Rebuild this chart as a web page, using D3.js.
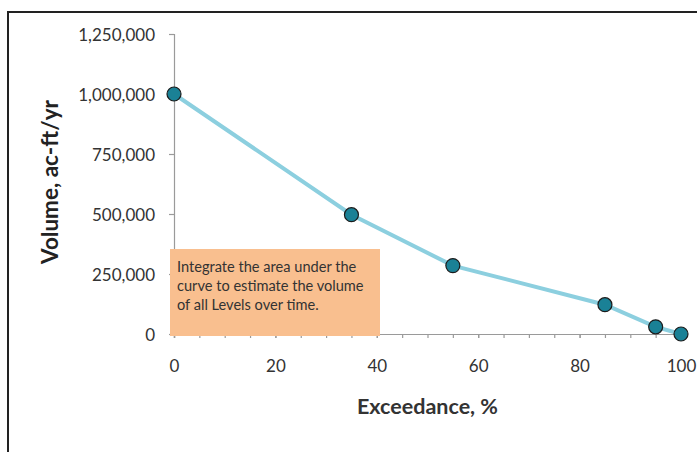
<!DOCTYPE html>
<html><head><meta charset="utf-8">
<script src="https://cdn.jsdelivr.net/npm/d3@7"></script>
<style>body{margin:0;background:#fff}svg{display:block}text{font-family:Lato,"Open Sans",sans-serif}</style>
</head><body><svg id="c" width="697" height="452"></svg>
<script>
const exceedance = [0, 35, 55, 85, 95, 100];
const volume = [1000000, 497000, 285000, 122000, 30000, 0];
const yTicks = [0, 250000, 500000, 750000, 1000000, 1250000];
const xTicks = [0, 20, 40, 60, 80, 100];
const xMinorTicks = d3.range(0, 101, 5);
const noteLines = ["Integrate the area under the", "curve to estimate the volume", "of all Levels over time."];
const xTitle = "Exceedance, %";
const yTitle = "Volume, ac-ft/yr";

const svg = d3.select("#c");
const x = d3.scaleLinear().domain([0, 100]).range([174, 681]);
const y = d3.scaleLinear().domain([0, 1250000]).range([334, 34]);

svg.append("rect").attr("x", 8).attr("y", 12).attr("width", 760).attr("height", 500)
  .attr("fill", "none").attr("stroke", "#222").attr("stroke-width", 2);

const axisColor = "#9a9a9a";
const gy = svg.append("g").attr("transform", "translate(174,0)")
  .call(d3.axisLeft(y).tickValues(yTicks).tickSize(5).tickPadding(14).tickFormat(d3.format(",")));
svg.append("g").attr("transform", "translate(0,334)")
  .call(d3.axisBottom(x).tickValues(xMinorTicks).tickSize(4).tickFormat(""));
const gx = svg.append("g").attr("transform", "translate(0,334)")
  .call(d3.axisBottom(x).tickValues(xTicks).tickSize(4).tickPadding(22).tickFormat(d3.format("d")));
svg.selectAll(".domain, .tick line").attr("stroke", axisColor).attr("stroke-width", 1.2);
svg.selectAll(".tick text").attr("fill", "#333").style("font-size", "17px").style("font-family", "Lato, sans-serif");
gy.selectAll(".tick text").attr("dy", "0.36em");

svg.append("rect").attr("x", 170).attr("y", 249).attr("width", 210).attr("height", 87).attr("fill", "#f9bf8f");
svg.append("g").selectAll("text").data(noteLines).join("text")
  .attr("x", 177).attr("y", (d, i) => 272 + i * 19)
  .attr("fill", "#333").style("font-size", "14.6px").text(d => d);

const pts = exceedance.map((e, i) => [e, volume[i]]);
svg.append("path").datum(pts)
  .attr("d", d3.line().x(d => x(d[0])).y(d => y(d[1])))
  .attr("fill", "none").attr("stroke", "#8ccfdf").attr("stroke-width", 4);
svg.append("g").selectAll("circle").data(pts).join("circle")
  .attr("cx", d => x(d[0])).attr("cy", d => y(d[1])).attr("r", 7)
  .attr("fill", "#1a8196").attr("stroke", "#1b1b1b").attr("stroke-width", 1.2);

svg.append("text").attr("x", 427.5).attr("y", 414).attr("text-anchor", "middle")
  .attr("fill", "#333").style("font-size", "21.5px").style("font-weight", "bold").text(xTitle);
svg.append("text").attr("transform", "translate(58,182) rotate(-90)").attr("text-anchor", "middle")
  .attr("fill", "#222").style("font-size", "22.5px").style("font-weight", "bold").text(yTitle);
</script></body></html>
